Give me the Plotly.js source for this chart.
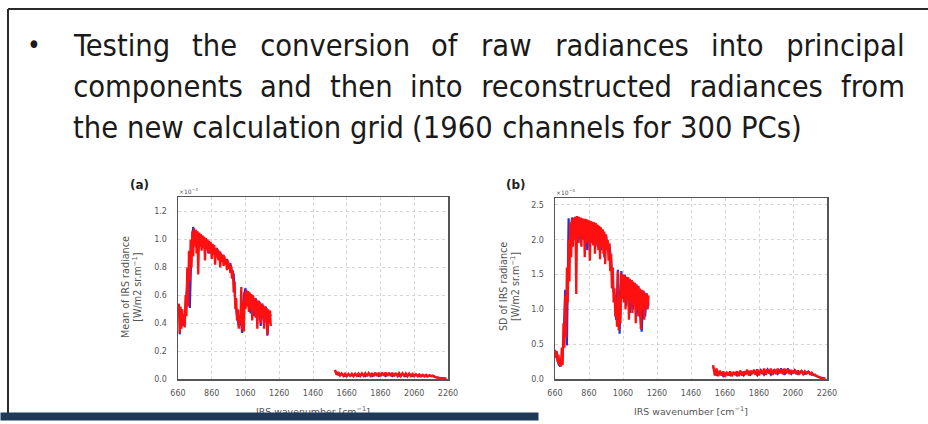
<!DOCTYPE html>
<html>
<head>
<meta charset="utf-8">
<script src="https://cdn.plot.ly/plotly-3.0.1.min.js"></script>
<style>
html,body{margin:0;padding:0;background:#fff;}
#chart{width:928px;height:424px;}
</style>
</head>
<body>
<div id="chart"></div>
<script>
// ---------------- DATA ----------------
const slideLines = [
  "Testing the conversion of raw radiances into principal",
  "components and then into reconstructed radiances from",
  "the new calculation grid (1960 channels for 300 PCs)"
];
const panelLabels = ["(a)", "(b)"];
const yTitles = ["Mean of IRS radiance<br>[W/m2 sr.m<sup>−1</sup>]", "SD of IRS radiance<br>[W/m2 sr.m<sup>−1</sup>]"];
const xTitle = "IRS wavenumber [cm<sup>−1</sup>]";
const scaleLabels = ["×10<sup>−3</sup>", "×10<sup>−4</sup>"];
const xTicks = [660, 860, 1060, 1260, 1460, 1660, 1860, 2060, 2260];
const meanTicks = [0, 0.2, 0.4, 0.6, 0.8, 1.0, 1.2];
const sdTicks = [0, 0.5, 1.0, 1.5, 2.0, 2.5];

// wavenumber grids [cm-1]
const wnFine = [660,665,670,675,680,685,690,695,700,705,710,715,720,725,730,735,740,745,750,755,
  760,765,770,775,780,785,790,795,800,805,810,815,820,825,830,835,840,845,850,855,
  860,865,870,875,880,885,890,895,900,905,910,915,920,925,930,935,940,945,950,955,
  960,965,970,975,980,985,990,995,1000,1005,1010,1015,1020,1025,1030,1035,1040,1045,1050,1055,
  1060,1065,1070,1075,1080,1085,1090,1095,1100,1105,1110,1115,1120,1125,1130,1135,1140,1145,1150,1155,
  1160,1165,1170,1175,1180,1185,1190,1195,1200,1205,1210];
const wnCoarse = [670,680,690,700,710,720,730,740,750,760,770,780,790,800,810,820,830,840,850,860,
  870,880,890,900,910,920,930,940,950,960,970,980,990,1000,1010,1020,1030,1040,1050,1060,
  1070,1080,1090,1100,1110,1120,1130,1140,1150,1160,1170,1180,1190,1200,1210];
const wnLong = [1590,1600,1610,1620,1630,1640,1650,1660,1670,1680,1690,1700,1710,1720,1730,1740,1750,1760,1770,1780,
  1790,1800,1810,1820,1830,1840,1850,1860,1870,1880,1890,1900,1910,1920,1930,1940,1950,1960,1970,1980,
  1990,2000,2010,2020,2030,2040,2050,2060,2070,2080,2090,2100,2110,2120,2130,2140,2150,2160,2170,2180,
  2190,2200,2210,2220,2230,2240,2250];
const wnLongCoarse = [1590,1610,1630,1650,1670,1690,1710,1730,1750,1770,1790,1810,1830,1850,1870,1890,1910,1930,1950,1970,
  1990,2010,2030,2050,2070,2090,2110,2130,2150,2170,2190,2210,2230,2250];

// (a) mean radiance, reconstructed (red) and raw (blue), x1e-3
const meanRecon1 = [0.45,0.54,0.33,0.52,0.36,0.50,0.40,0.46,0.37,0.60,0.45,0.80,0.52,0.92,0.70,1.00,0.80,1.06,0.88,1.08,
  0.95,1.07,0.90,1.06,0.75,1.05,0.95,1.04,0.92,1.03,0.94,1.02,0.85,1.01,0.93,1.00,0.91,0.99,0.90,0.98,
  0.86,0.97,0.89,0.96,0.82,0.94,0.87,0.93,0.85,0.92,0.80,0.90,0.84,0.89,0.81,0.88,0.82,0.86,0.78,0.85,
  0.79,0.83,0.76,0.81,0.72,0.78,0.62,0.70,0.50,0.58,0.42,0.50,0.36,0.46,0.40,0.66,0.35,0.55,0.34,0.62,
  0.50,0.64,0.52,0.63,0.48,0.62,0.50,0.61,0.42,0.60,0.49,0.58,0.44,0.57,0.36,0.56,0.45,0.55,0.40,0.54,
  0.44,0.53,0.36,0.52,0.42,0.51,0.32,0.50,0.40,0.49,0.38];
const meanRaw1 = [0.32,0.50,0.38,0.45,0.60,0.78,0.51,0.95,1.09,0.98,1.06,0.93,1.04,0.95,1.02,0.92,1.00,0.90,0.98,0.90,
  0.96,0.88,0.94,0.86,0.91,0.85,0.89,0.83,0.86,0.80,0.83,0.77,0.75,0.55,0.45,0.38,0.45,0.33,0.60,0.65,
  0.55,0.62,0.47,0.60,0.45,0.58,0.42,0.56,0.38,0.54,0.40,0.52,0.31,0.48,0.45];
const meanRecon2 = [0.065,0.030,0.050,0.025,0.040,0.022,0.038,0.020,0.036,0.022,
  0.037,0.020,0.038,0.023,0.039,0.021,0.040,0.022,0.041,0.020,
  0.042,0.023,0.043,0.021,0.044,0.022,0.045,0.020,0.045,0.023,
  0.046,0.021,0.045,0.022,0.044,0.020,0.043,0.022,0.042,0.021,
  0.041,0.022,0.040,0.020,0.038,0.021,0.036,0.020,0.034,0.020,
  0.032,0.019,0.030,0.019,0.029,0.018,0.027,0.020,0.024,0.017,
  0.012,0.010,0.008,0.006,0.005,0.004,0.003];
const meanRaw2 = [0.060,0.030,0.035,0.020,0.030,0.025,0.030,0.020,0.035,0.020,0.038,0.020,0.040,0.020,0.042,0.020,0.040,0.020,0.038,0.020,
  0.036,0.020,0.034,0.020,0.030,0.018,0.026,0.018,0.024,0.020,0.012,0.008,0.005,0.003];

// (b) standard deviation, reconstructed (red) and raw (blue), x1e-4
const sdRecon1 = [0.42,0.30,0.40,0.25,0.35,0.20,0.30,0.18,0.45,0.20,0.80,0.45,1.20,0.60,1.60,1.10,2.00,1.40,2.25,1.75,
  2.30,1.90,2.32,2.00,2.33,1.22,2.34,1.95,2.33,2.05,2.32,1.90,2.31,2.00,2.30,1.75,2.30,1.95,2.29,1.98,
  2.28,1.70,2.27,1.95,2.26,1.92,2.25,1.80,2.24,1.95,2.22,1.85,2.20,1.72,2.18,1.90,2.15,1.80,2.12,1.65,
  2.08,1.85,2.00,1.70,1.95,1.55,1.80,1.30,1.60,1.10,1.30,0.90,1.10,0.75,1.55,0.70,1.20,0.80,1.52,1.15,
  1.50,1.10,1.49,1.00,1.47,1.15,1.46,0.85,1.44,1.10,1.42,0.95,1.40,1.05,1.38,0.80,1.36,1.00,1.33,0.90,
  1.30,0.72,1.28,1.00,1.26,0.85,1.24,1.05,1.22,1.00,1.20];
const sdRaw1 = [0.35,0.22,0.18,0.30,0.50,1.28,0.48,2.31,1.80,2.32,2.10,2.33,2.00,2.32,1.95,2.30,2.05,2.29,1.85,2.27,
  2.00,2.25,1.95,2.23,1.90,2.19,1.85,2.14,1.75,2.06,1.90,1.93,1.70,1.35,1.20,0.85,1.57,0.65,1.55,1.20,
  1.50,1.05,1.46,0.95,1.42,1.00,1.38,0.90,1.34,0.95,0.68,1.27,0.90,1.23,1.05];
const sdRecon2 = [0.20,0.05,0.15,0.04,0.12,0.05,0.11,0.03,0.10,0.05,
  0.11,0.04,0.10,0.06,0.11,0.04,0.12,0.05,0.11,0.06,
  0.13,0.05,0.12,0.07,0.13,0.06,0.14,0.05,0.13,0.07,
  0.15,0.06,0.14,0.08,0.15,0.06,0.14,0.07,0.15,0.08,
  0.14,0.07,0.15,0.08,0.14,0.07,0.13,0.08,0.12,0.07,
  0.12,0.08,0.11,0.07,0.11,0.08,0.10,0.07,0.09,0.06,
  0.06,0.04,0.03,0.02,0.015,0.01,0.005];
const sdRaw2 = [0.17,0.06,0.10,0.04,0.09,0.05,0.09,0.05,0.11,0.05,0.12,0.06,0.12,0.05,0.13,0.06,0.14,0.06,0.13,0.07,
  0.15,0.06,0.15,0.07,0.13,0.07,0.12,0.07,0.11,0.06,0.05,0.03,0.015,0.005];

// ---------------- STYLE / LAYOUT ----------------
const W = 928, H = 424;
const px = v => v / W;
const py = v => 1 - v / H;
const RED = '#ff1010', BLUE = '#2233dd';
const TXT = '#555';

function line(x, y, color, xa, ya, w) {
  return {type:'scatter', mode:'lines', x:x, y:y, xaxis:xa, yaxis:ya,
    line:{color:color, width:w, simplify:false}, hoverinfo:'skip'};
}
const traces = [
  line(wnCoarse, meanRaw1, BLUE, 'x', 'y', 2.2),
  line(wnLongCoarse, meanRaw2, BLUE, 'x', 'y', 2),
  line(wnFine, meanRecon1, RED, 'x', 'y', 2.3),
  line(wnLong, meanRecon2, RED, 'x', 'y', 2.4),
  line(wnCoarse, sdRaw1, BLUE, 'x2', 'y2', 2.2),
  line(wnLongCoarse, sdRaw2, BLUE, 'x2', 'y2', 2),
  line(wnFine, sdRecon1, RED, 'x2', 'y2', 2.3),
  line(wnLong, sdRecon2, RED, 'x2', 'y2', 2.4)
];

const tickFont = {family:'DejaVu Sans', size:8, color:TXT};
const baseAxis = {
  showgrid:true, gridcolor:'#d6d6d6', griddash:'dot', gridwidth:1,
  showline:true, mirror:true, linecolor:'#555', linewidth:1.5,
  zeroline:false, ticks:'', tickfont:tickFont, fixedrange:true
};

const annotations = [];
// panel decorations
const panels = [
  {x0:178, x1:448, y0:197, y1:379, lab:[139, 185], yt:[131, 287], xt:[313, 411]},
  {x0:555, x1:827, y0:198, y1:379, lab:[516, 185], yt:[509, 287], xt:[691, 411]}
];
panels.forEach((p, i) => {
  annotations.push({xref:'paper', yref:'paper', x:px(p.lab[0]), y:py(p.lab[1]), xanchor:'center', yanchor:'middle',
    text:'<b>' + panelLabels[i] + '</b>', showarrow:false, font:{family:'DejaVu Sans', size:12, color:'#222'}});
  annotations.push({xref:'paper', yref:'paper', x:px(p.x0), y:py(p.y0 - 1), xanchor:'left', yanchor:'bottom',
    text:scaleLabels[i], showarrow:false, font:{family:'DejaVu Sans', size:6, color:TXT}, borderpad:0});
  annotations.push({xref:'paper', yref:'paper', x:px(p.yt[0]), y:py(p.yt[1]), xanchor:'center', yanchor:'middle',
    text:yTitles[i], textangle:-90, showarrow:false, font:{family:'DejaVu Sans', size:9.6, color:TXT}});
  annotations.push({xref:'paper', yref:'paper', x:px(p.xt[0]), y:py(p.xt[1]), xanchor:'center', yanchor:'middle',
    text:xTitle, showarrow:false, font:{family:'DejaVu Sans', size:9.4, color:TXT}});
});

// slide text (justified, narrow face like the original slide)
const canvas = document.createElement('canvas');
const ctx = canvas.getContext('2d');
function widthOf(t, fam, size) { ctx.font = size + 'px ' + fam; return ctx.measureText(t).width; }
function hasFont(name) {
  const probe = 'abcdefghijklmnopqrstuvwxyz0123';
  return ['monospace', 'serif'].every(gen =>
    Math.abs(widthOf(probe, "'" + name + "', " + gen, 50) - widthOf(probe, gen, 50)) > 0.5);
}
const candidates = ['DejaVu Sans Condensed', 'DejaVu Sans', 'Liberation Sans'];
const famName = candidates.find(hasFont) || 'sans-serif';
const fam = "'" + famName + "'";
const fontSize = 30.6;
const textLeft = 73, textRight = 905, lastLineRight = 802;
const squeeze = Math.min(1, (lastLineRight - textLeft) / widthOf(slideLines[2], fam, fontSize));
const lineY = [45.5, 86.5, 127.5];
const squeezed = [];   // [annotation index, target width]
slideLines.forEach((ln, li) => {
  const words = ln.split(' ');
  const widths = words.map(w => widthOf(w, fam, fontSize) * squeeze);
  let gap = widthOf(' ', fam, fontSize) * squeeze;
  if (li < slideLines.length - 1) {
    const sum = widths.reduce((a, b) => a + b, 0);
    gap = (textRight - textLeft - sum) / (words.length - 1);
  }
  let x = textLeft;
  words.forEach((w, wi) => {
    squeezed.push([annotations.length, widths[wi]]);
    annotations.push({xref:'paper', yref:'paper', x:px(x + widths[wi] / 2), y:py(lineY[li]), xanchor:'center', yanchor:'middle',
      text:w, showarrow:false, borderpad:0, font:{family:famName, size:fontSize, color:'#1a1a1a'}});
    x += widths[wi] + gap;
  });
});
annotations.push({xref:'paper', yref:'paper', x:px(34), y:py(45), xanchor:'center', yanchor:'middle',
  text:'•', showarrow:false, font:{family:famName, size:26, color:'#1a1a1a'}});

// bottom dark bar (drawn last so it covers the clipped axis title, as in the slide)
annotations.push({xref:'paper', yref:'paper', x:0, y:py(416.5), xanchor:'left', yanchor:'middle',
  text:' ', width:537, height:7, bgcolor:'#1f3a58', borderpad:0, showarrow:false, font:{size:4}});

const layout = {
  width:W, height:H, margin:{l:0, r:0, t:0, b:0},
  paper_bgcolor:'#ffffff', plot_bgcolor:'#ffffff', showlegend:false,
  xaxis: Object.assign({}, baseAxis, {domain:[px(178), px(448)], range:[660, 2260], tickvals:xTicks, anchor:'y', ticklabelstandoff:6}),
  yaxis: Object.assign({}, baseAxis, {domain:[py(379), py(197)], range:[0, 1.305], tickvals:meanTicks, tickformat:'.1f', anchor:'x', ticklabelstandoff:8}),
  xaxis2: Object.assign({}, baseAxis, {domain:[px(555), px(827)], range:[660, 2260], tickvals:xTicks, anchor:'y2', ticklabelstandoff:6}),
  yaxis2: Object.assign({}, baseAxis, {domain:[py(379), py(198)], range:[0, 2.6], tickvals:sdTicks, tickformat:'.1f', anchor:'x2', ticklabelstandoff:8}),
  shapes: [
    {type:'line', xref:'paper', yref:'paper', x0:px(8), x1:1, y0:py(9), y1:py(9), line:{color:'#2b2b2b', width:2}},
    {type:'line', xref:'paper', yref:'paper', x0:px(8), x1:px(8), y0:py(9), y1:py(414), line:{color:'#2b2b2b', width:2}}
  ],
  annotations: annotations
};

Plotly.newPlot('chart', traces, layout, {displayModeBar:false, staticPlot:true}).then(gd => {
  // narrow the slide words horizontally to the original narrow typeface width
  squeezed.forEach(([idx, w]) => {
    const t = gd.querySelector('.annotation[data-index="' + idx + '"] text.annotation-text');
    if (t) { t.setAttribute('textLength', w.toFixed(2)); t.setAttribute('lengthAdjust', 'spacingAndGlyphs'); }
  });
});
</script>
</body>
</html>
